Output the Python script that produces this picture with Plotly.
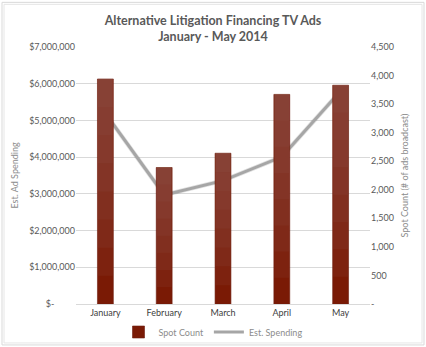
import plotly.graph_objects as go

months = ["January", "February", "March", "April", "May"]
spot_count = [3940, 2390, 2640, 3670, 3830]
est_spending = [5190000, 2970000, 3360000, 4010000, 5800000]

left_ticks = [0, 1000000, 2000000, 3000000, 4000000, 5000000, 6000000, 7000000]
left_labels = ["$-         ", "$1,000,000", "$2,000,000", "$3,000,000", "$4,000,000",
               "$5,000,000", "$6,000,000", "$7,000,000"]
right_ticks = [0, 500, 1000, 1500, 2000, 2500, 3000, 3500, 4000, 4500]
right_labels = ["-", "500", "1,000", "1,500", "2,000", "2,500", "3,000", "3,500", "4,000", "4,500"]

FONT = "Lato, Open Sans, sans-serif"
TXT = "#595959"

fig = go.Figure()

fig.add_trace(go.Bar(
    x=months, y=spot_count, name="Spot Count", yaxis="y2",
    marker=dict(color="#7A1A05", line=dict(color="#6E1E10", width=0.6)),
    width=0.27, showlegend=True,
))
# gradient effect: translucent lighter layers accumulating toward top
N = 8
for k in range(1, N):
    f = k / N
    fig.add_trace(go.Bar(
        x=months, y=[v * (1 - f) for v in spot_count], base=[v * f for v in spot_count],
        yaxis="y2", marker=dict(color="rgba(150,95,88,0.13)", line=dict(width=0)),
        width=0.255, showlegend=False, hoverinfo="skip",
    ))

fig.add_trace(go.Scatter(
    x=months, y=est_spending, mode="lines", yaxis="y",
    line=dict(color="rgba(0,0,0,0.12)", width=4.5), showlegend=False, hoverinfo="skip",
))
fig.add_trace(go.Scatter(
    x=months, y=est_spending, name="Est. Spending", mode="lines", yaxis="y",
    line=dict(color="#A6A6A6", width=3),
))

plot_l, plot_r, plot_t, plot_b = 76, 370, 46.7, 304
W, H = 426, 347
pw, ph = plot_r - plot_l, plot_b - plot_t

fig.update_layout(
    width=W, height=H,
    margin=dict(l=plot_l, r=W - plot_r, t=plot_t, b=H - plot_b, autoexpand=False),
    paper_bgcolor="white", plot_bgcolor="white",
    barmode="overlay",
    font=dict(family=FONT, size=9, color=TXT),
    title=dict(
        text="<b>Alternative Litigation Financing TV Ads<br>January - May 2014</b>",
        x=0.5, xanchor="center", y=1 - 24.5 / H, yanchor="middle",
        font=dict(family=FONT, size=12.5, color=TXT),
    ),
    xaxis=dict(
        showgrid=False, showline=True, linecolor="#D9D9D9", linewidth=1,
        tickfont=dict(size=9, color="#404040"), ticks="",
    ),
    yaxis=dict(
        range=[0, 7000000], tickvals=left_ticks, ticktext=left_labels,
        showgrid=True, gridcolor="#D9D9D9", gridwidth=1, zeroline=False,
        title=dict(text="Est. Ad Spending", font=dict(size=9, color="#8C8C8C"), standoff=8),
        tickfont=dict(size=9, color=TXT), ticks="",
    ),
    yaxis2=dict(
        range=[0, 4500], tickvals=right_ticks, ticktext=right_labels,
        overlaying="y", side="right", showgrid=False, zeroline=False,
        title=dict(text="Spot Count (# of ads broadcast)", font=dict(size=9, color="#8C8C8C"), standoff=8),
        tickfont=dict(size=9, color=TXT), ticks="",
    ),
    legend=dict(
        orientation="h", xref="container", yref="container",
        x=0.5, xanchor="center", y=1 - 332 / H, yanchor="middle",
        font=dict(size=9, color="#8C8C8C"), itemwidth=30, tracegroupgap=0,
        bgcolor="rgba(0,0,0,0)",
    ),
    shapes=[
        dict(type="rect", xref="paper", yref="paper",
             x0=(2 - plot_l) / pw, x1=(W - 2 - plot_l) / pw,
             y0=(plot_b - (H - 2)) / ph, y1=(plot_b - 2) / ph,
             line=dict(color="#D9D9D9", width=1)),
        dict(type="rect", xref="paper", yref="paper",
             x0=(4 - plot_l) / pw, x1=(W - 4 - plot_l) / pw,
             y0=(plot_b - (H - 4)) / ph, y1=(plot_b - 4) / ph,
             line=dict(color="#E6E6E6", width=1)),
    ],
)

fig.write_html("out.html")
